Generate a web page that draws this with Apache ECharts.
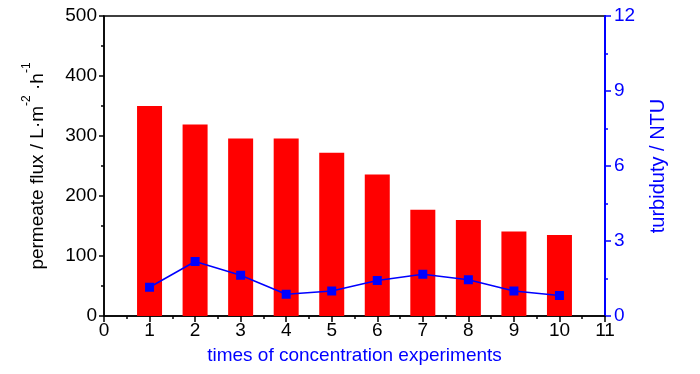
<!DOCTYPE html>
<html>
<head>
<meta charset="utf-8">
<script src="https://cdn.jsdelivr.net/npm/echarts@6/dist/echarts.min.js"></script>
<style>
html,body{margin:0;padding:0;background:#fff;}
#chart{width:700px;height:374px;}
</style>
</head>
<body>
<div id="chart"></div>
<script>
const experiments = [1, 2, 3, 4, 5, 6, 7, 8, 9, 10];
const fluxValues = [350, 319, 296, 296, 272, 236, 177, 160, 141, 135];
const turbidityValues = [1.15, 2.18, 1.63, 0.87, 1.0, 1.42, 1.67, 1.45, 1.0, 0.82];

const FONT = "'Liberation Sans', Arial, sans-serif";
const chart = echarts.init(document.getElementById('chart'), null, {renderer: 'canvas'});

const fluxData = experiments.map((x, i) => [x, fluxValues[i]]);
const turbData = experiments.map((x, i) => [x, turbidityValues[i]]);

chart.setOption({
  animation: false,
  backgroundColor: '#fff',
  grid: {left: 104, right: 95, top: 16, bottom: 58, show: true, borderColor: '#000', borderWidth: 1.5, backgroundColor: 'transparent'},
  xAxis: {
    type: 'value', min: 0, max: 11, interval: 1,
    name: 'times of concentration experiments',
    nameLocation: 'middle', nameGap: 30,
    nameTextStyle: {color: '#0000ff', fontSize: 19, fontFamily: FONT},
    axisLine: {show: true, onZero: false, lineStyle: {color: '#000', width: 1.5}},
    axisTick: {show: true, length: 6, lineStyle: {color: '#000', width: 1.5}},
    minorTick: {show: true, splitNumber: 2, length: 3, lineStyle: {color: '#000', width: 1.5}},
    axisLabel: {color: '#000', fontSize: 19, fontFamily: FONT, margin: 5},
    splitLine: {show: false}
  },
  yAxis: [{
    type: 'value', min: 0, max: 500, interval: 100, position: 'left',
    name: '{n|permeate flux / L·m}{s|-2}{n| ·h}{s|-1}',
    nameLocation: 'middle', nameGap: 57, nameRotate: 90,
    nameTextStyle: {
      color: '#000', fontFamily: FONT, fontSize: 19,
      rich: {
        n: {fontSize: 19, fontFamily: FONT, color: '#000', lineHeight: 26, verticalAlign: 'bottom'},
        s: {fontSize: 12, fontFamily: FONT, color: '#000', lineHeight: 26, verticalAlign: 'top'}
      }
    },
    axisLine: {show: true, lineStyle: {color: '#000', width: 1.5}},
    axisTick: {show: true, length: 5, lineStyle: {color: '#000', width: 1.5}},
    minorTick: {show: true, splitNumber: 2, length: 3, lineStyle: {color: '#000', width: 1.5}},
    axisLabel: {color: '#000', fontSize: 19, fontFamily: FONT, margin: 7},
    splitLine: {show: false}
  }, {
    type: 'value', min: 0, max: 12, interval: 3, position: 'right',
    name: 'turbiduty / NTU',
    nameLocation: 'middle', nameGap: 43, nameRotate: 90,
    nameTextStyle: {color: '#0000ff', fontSize: 20, fontFamily: FONT},
    axisLine: {show: true, lineStyle: {color: '#0000ff', width: 2}},
    axisTick: {show: true, length: 6, lineStyle: {color: '#0000ff', width: 1.5}},
    minorTick: {show: true, splitNumber: 2, length: 3, lineStyle: {color: '#0000ff', width: 1.5}},
    axisLabel: {color: '#0000ff', fontSize: 19, fontFamily: FONT, margin: 9},
    splitLine: {show: false}
  }],
  series: [{
    type: 'bar', xAxisIndex: 0, yAxisIndex: 0,
    data: fluxData, barWidth: 25,
    itemStyle: {color: '#ff0000'}
  }, {
    type: 'line', xAxisIndex: 0, yAxisIndex: 1,
    data: turbData,
    symbol: 'rect', symbolSize: 9,
    lineStyle: {color: '#0000ff', width: 1.5},
    itemStyle: {color: '#0000ff'}
  }]
});
</script>
</body>
</html>
